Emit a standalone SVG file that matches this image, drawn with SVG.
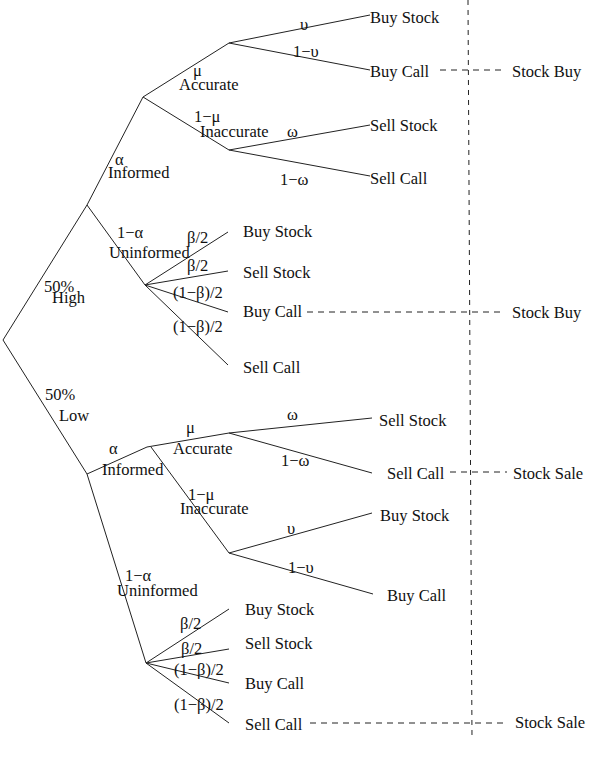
<svg xmlns="http://www.w3.org/2000/svg" width="595" height="762" viewBox="0 0 595 762">
<style>
text{font-family:"Liberation Serif","Times New Roman",serif;font-size:16.5px;fill:#111}
.e{stroke:#222;stroke-width:1;fill:none}
.d{stroke:#222;stroke-width:1;fill:none;stroke-dasharray:6,5}
.v{stroke:#222;stroke-width:1;fill:none;stroke-dasharray:5,5}
</style>
<rect width="595" height="762" fill="#fff"/>
<g id="connectors">
<!-- root -->
<path class="e" d="M3,340 L87,205 M3,340 L87,474"/>
<!-- high -->
<path class="e" d="M87,205 L143,97 M87,205 L145,285"/>
<path class="e" d="M143,97 L229,43 M143,97 L229,150"/>
<path class="e" d="M229,43 L370,15 M229,43 L370,70"/>
<path class="e" d="M229,150 L370,125 M229,150 L370,176"/>
<path class="e" d="M145,285 L228,232 M145,285 L228,271 M145,285 L228,312 M145,285 L228,365"/>
<!-- low -->
<path class="e" d="M87,474 L147,447 M87,474 L146,663"/>
<path class="e" d="M147,447 L229,433 M151,447 L229,553"/>
<path class="e" d="M229,433 L372,418 M229,433 L372,473"/>
<path class="e" d="M229,553 L372,513 M229,553 L373,594"/>
<path class="e" d="M146,663 L229,609 M146,663 L229,649 M146,663 L229,683 M146,663 L229,723"/>
<!-- dashed -->
<path class="v" d="M468,0 L472,738"/>
<path class="d" d="M440,70 L506,70"/>
<path class="d" d="M307,312 L502,312"/>
<path class="d" d="M450,472 L507,472"/>
<path class="d" d="M310,723 L503,723"/>
</g>
<g id="root-high">
<text x="44" y="292">50%</text>
<text x="52" y="303">High</text>
</g>
<g id="root-low">
<text x="45" y="400">50%</text>
<text x="59" y="421">Low</text>
</g>
<g id="high-informed">
<text x="115" y="165">α</text>
<text x="108" y="178">Informed</text>
</g>
<g id="high-accurate">
<text x="193" y="76">μ</text>
<text x="179" y="90">Accurate</text>
<text x="300" y="30">υ</text>
<text x="293" y="57">1−υ</text>
</g>
<g id="high-inaccurate">
<text x="194" y="122">1−μ</text>
<text x="200" y="137">Inaccurate</text>
<text x="287" y="137">ω</text>
<text x="280" y="185">1−ω</text>
</g>
<g id="high-uninformed">
<text x="117" y="238">1−α</text>
<text x="109" y="258">Uninformed</text>
<text x="187" y="243">β/2</text>
<text x="187" y="271">β/2</text>
<text x="173" y="298">(1−β)/2</text>
<text x="173" y="332">(1−β)/2</text>
</g>
<g id="high-outcomes">
<text x="370" y="23">Buy Stock</text>
<text x="370" y="77">Buy Call</text>
<text x="370" y="131">Sell Stock</text>
<text x="370" y="184">Sell Call</text>
<text x="243" y="237">Buy Stock</text>
<text x="243" y="278">Sell Stock</text>
<text x="243" y="317">Buy Call</text>
<text x="243" y="373">Sell Call</text>
<text x="512" y="77">Stock Buy</text>
<text x="512" y="318">Stock Buy</text>
</g>
<g id="low-informed">
<text x="109" y="454">α</text>
<text x="102" y="475">Informed</text>
</g>
<g id="low-accurate">
<text x="186" y="433">μ</text>
<text x="173" y="454">Accurate</text>
<text x="287" y="420">ω</text>
<text x="281" y="466">1−ω</text>
</g>
<g id="low-inaccurate">
<text x="188" y="500">1−μ</text>
<text x="180" y="514">Inaccurate</text>
<text x="287" y="534">υ</text>
<text x="288" y="573">1−υ</text>
</g>
<g id="low-uninformed">
<text x="125" y="581">1−α</text>
<text x="117" y="596">Uninformed</text>
<text x="180" y="629">β/2</text>
<text x="181" y="654">β/2</text>
<text x="174" y="675">(1−β)/2</text>
<text x="174" y="710">(1−β)/2</text>
</g>
<g id="low-outcomes">
<text x="379" y="426">Sell Stock</text>
<text x="387" y="479">Sell Call</text>
<text x="380" y="521">Buy Stock</text>
<text x="387" y="601">Buy Call</text>
<text x="245" y="615">Buy Stock</text>
<text x="245" y="649">Sell Stock</text>
<text x="245" y="689">Buy Call</text>
<text x="245" y="730">Sell Call</text>
<text x="513" y="479">Stock Sale</text>
<text x="515" y="728">Stock Sale</text>
</g>
</svg>
